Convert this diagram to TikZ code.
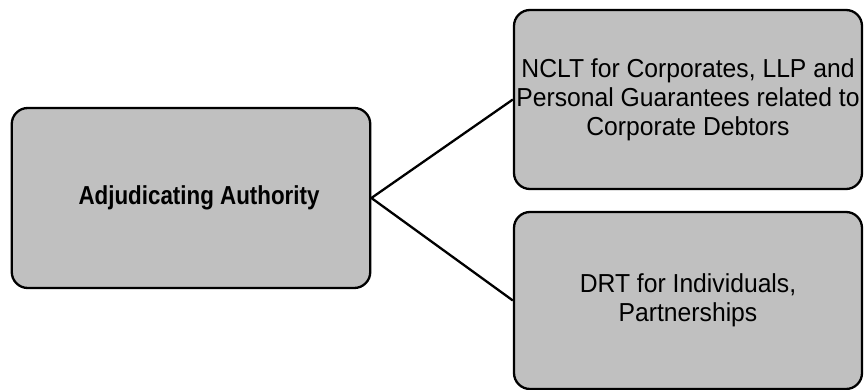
\documentclass[tikz,border=0pt]{standalone}
\usepackage{fontspec}
\setmainfont{Liberation Sans}
\newfontfamily\narrowfont[FakeStretch=0.95]{Liberation Sans}
\newfontfamily\narrowbold[FakeStretch=0.86]{Liberation Sans Bold}
\begin{document}
\begin{tikzpicture}[x=1pt,y=-1pt,
  box/.style={draw=black,line width=2.3pt,fill=boxgray,rounded corners=16pt,align=center,inner sep=0pt,
    font=\narrowfont\fontsize{26}{29}\selectfont},
  link/.style={draw=black,line width=2.3pt}]
\definecolor{boxgray}{HTML}{C0C0C0}
\useasboundingbox (0,0) rectangle (864,390);
\node[box,minimum width=358.5pt,minimum height=180pt] (aa) at (191,198) {\hspace*{16pt}\narrowbold Adjudicating Authority};
\node[box,minimum width=348pt,minimum height=179pt] (nclt) at (688,99.5) {NCLT for Corporates, LLP and\\Personal Guarantees related to\\Corporate Debtors};
\node[box,minimum width=348pt,minimum height=177pt] (drt) at (688,300.5) {DRT for Individuals,\\Partnerships};
\draw[link] (aa.east) -- (nclt.west);
\draw[link] (aa.east) -- (drt.west);
\end{tikzpicture}
\end{document}
